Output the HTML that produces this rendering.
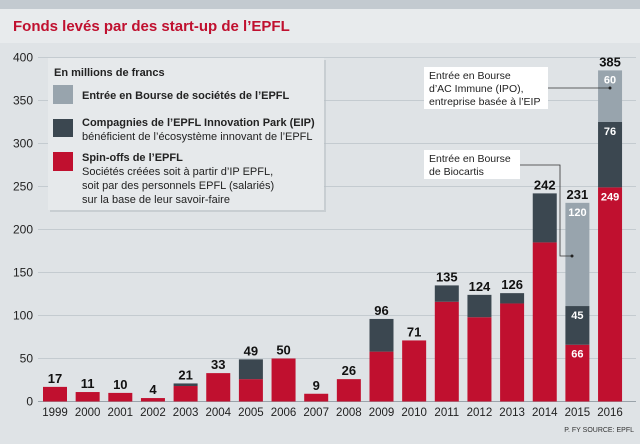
<!DOCTYPE html>
<html><head><meta charset="utf-8"><style>
body{margin:0;width:640px;height:439px;overflow:hidden;background:#dfe3e6;font-family:"Liberation Sans",sans-serif}
svg text{font-family:"Liberation Sans",sans-serif}
</style></head><body>
<svg width="640" height="439" id="c">
<rect x="0" y="0" width="640" height="9" fill="#c3cad0"/>
<rect x="0" y="9" width="640" height="34" fill="#e8ebed"/>
<text x="13" y="31" fill="#c0102f" font-size="15" font-weight="bold">Fonds levés par des start-up de l’EPFL</text>
<g id="grid"></g>
<g id="bars"></g>
<g>
<rect x="50" y="60" width="276" height="152" fill="#b9bfc4" opacity="0.6"/>
<rect x="48" y="58" width="276" height="152" fill="#e6e9eb"/>
<text x="54" y="76" font-size="11" font-weight="bold" fill="#222">En millions de francs</text>
<rect x="53" y="85" width="20" height="19" fill="#98a4ad"/>
<text x="82" y="99" font-size="11" font-weight="bold" fill="#222">Entrée en Bourse de sociétés de l’EPFL</text>
<rect x="53" y="119" width="20" height="18" fill="#3b4750"/>
<text x="82" y="126" font-size="11" font-weight="bold" fill="#222">Compagnies de l’EPFL Innovation Park (EIP)</text>
<text x="82" y="140" font-size="11" fill="#222">bénéficient de l’écosystème innovant de l’EPFL</text>
<rect x="53" y="152" width="20" height="19" fill="#c0102f"/>
<text x="82" y="161" font-size="11" font-weight="bold" fill="#222">Spin-offs de l’EPFL</text>
<text x="82" y="175" font-size="11" fill="#222">Sociétés créées soit à partir d’IP EPFL,</text>
<text x="82" y="189" font-size="11" fill="#222">soit par des personnels EPFL (salariés)</text>
<text x="82" y="203" font-size="11" fill="#222">sur la base de leur savoir-faire</text>
</g>
<g>
<rect x="424" y="67" width="124" height="42" fill="#fff"/>
<text x="429" y="79" font-size="10.5" fill="#222">Entrée en Bourse</text>
<text x="429" y="92" font-size="10.5" fill="#222">d’AC Immune (IPO),</text>
<text x="429" y="105" font-size="10.5" fill="#222">entreprise basée à l’EIP</text>
<line x1="548" y1="88" x2="610" y2="88" stroke="#333" stroke-width="0.8"/>
<circle cx="610" cy="88" r="1.5" fill="#222"/>
</g>
<g>
<rect x="424" y="150" width="96" height="29" fill="#fff"/>
<text x="429" y="162" font-size="10.5" fill="#222">Entrée en Bourse</text>
<text x="429" y="175" font-size="10.5" fill="#222">de Biocartis</text>
<polyline points="520,165 560,165 560,256 572,256" fill="none" stroke="#333" stroke-width="0.8"/>
<circle cx="572" cy="256" r="1.5" fill="#222"/>
</g>
<text x="634" y="432" font-size="7" fill="#333" text-anchor="end">P. FY SOURCE: EPFL</text>
</svg>
<script>
const years=["1999","2000","2001","2002","2003","2004","2005","2006","2007","2008","2009","2010","2011","2012","2013","2014","2015","2016"];
const spinoff=[17,11,10,4,18,33,26,50,9,26,58,71,116,98,114,185,66,249];
const eip=[0,0,0,0,3,0,23,0,0,0,38,0,19,26,12,57,45,76];
const ipo=[0,0,0,0,0,0,0,0,0,0,0,0,0,0,0,0,120,60];
const totals=[17,11,10,4,21,33,49,50,9,26,96,71,135,124,126,242,231,385];
const yTicks=[0,50,100,150,200,250,300,350,400];
const NS="http://www.w3.org/2000/svg";
const y=v=>401.5-v*0.86;
const x=i=>55+i*32.65;
const bw=24;
function mk(t,a,p){const e=document.createElementNS(NS,t);for(const k in a)e.setAttribute(k,a[k]);p.appendChild(e);return e;}
const grid=document.getElementById('grid');
yTicks.forEach(t=>{
 const l=mk('line',{x1:38,x2:636,y1:y(t),y2:y(t),stroke:t===0?'#9aa3aa':'#c4cbd0','stroke-width':1},grid);
 
 
 const tx=mk('text',{x:33,y:y(t)+4,'font-size':12,'text-anchor':'end',fill:'#222'},grid);
 tx.textContent=t;
 
 
});
const bars=document.getElementById('bars');
years.forEach((yr,i)=>{
 const cx=x(i);let base=0;
 [[spinoff,'#c0102f','spinoff'],[eip,'#3b4750','eip'],[ipo,'#98a4ad','ipo']].forEach(([arr,col,nm])=>{
  const v=arr[i];if(v<=0)return;
  const r=mk('rect',{x:cx-bw/2,y:y(base+v),width:bw,height:y(base)-y(base+v),fill:col},bars);
  
  
  base+=v;
 });
 const lt=mk('text',{x:cx,y:y(totals[i])-4,'font-size':13,'font-weight':'bold','text-anchor':'middle',fill:'#111'},bars);
 lt.textContent=totals[i];
 
 
 const xl=mk('text',{x:cx,y:416,'font-size':11.5,'text-anchor':'middle',fill:'#222'},bars);
 xl.textContent=yr;
 
 
 if(i>=16){
  const segs=[[spinoff[i],0],[eip[i],spinoff[i]],[ipo[i],spinoff[i]+eip[i]]];
  segs.forEach(([v,b])=>{
   const s=mk('text',{x:cx,y:y(b+v)+13,'font-size':11,'font-weight':'bold','text-anchor':'middle',fill:'#fff'},bars);
   s.textContent=v;
   
   
  });
 }
});
</script>
</body></html>
